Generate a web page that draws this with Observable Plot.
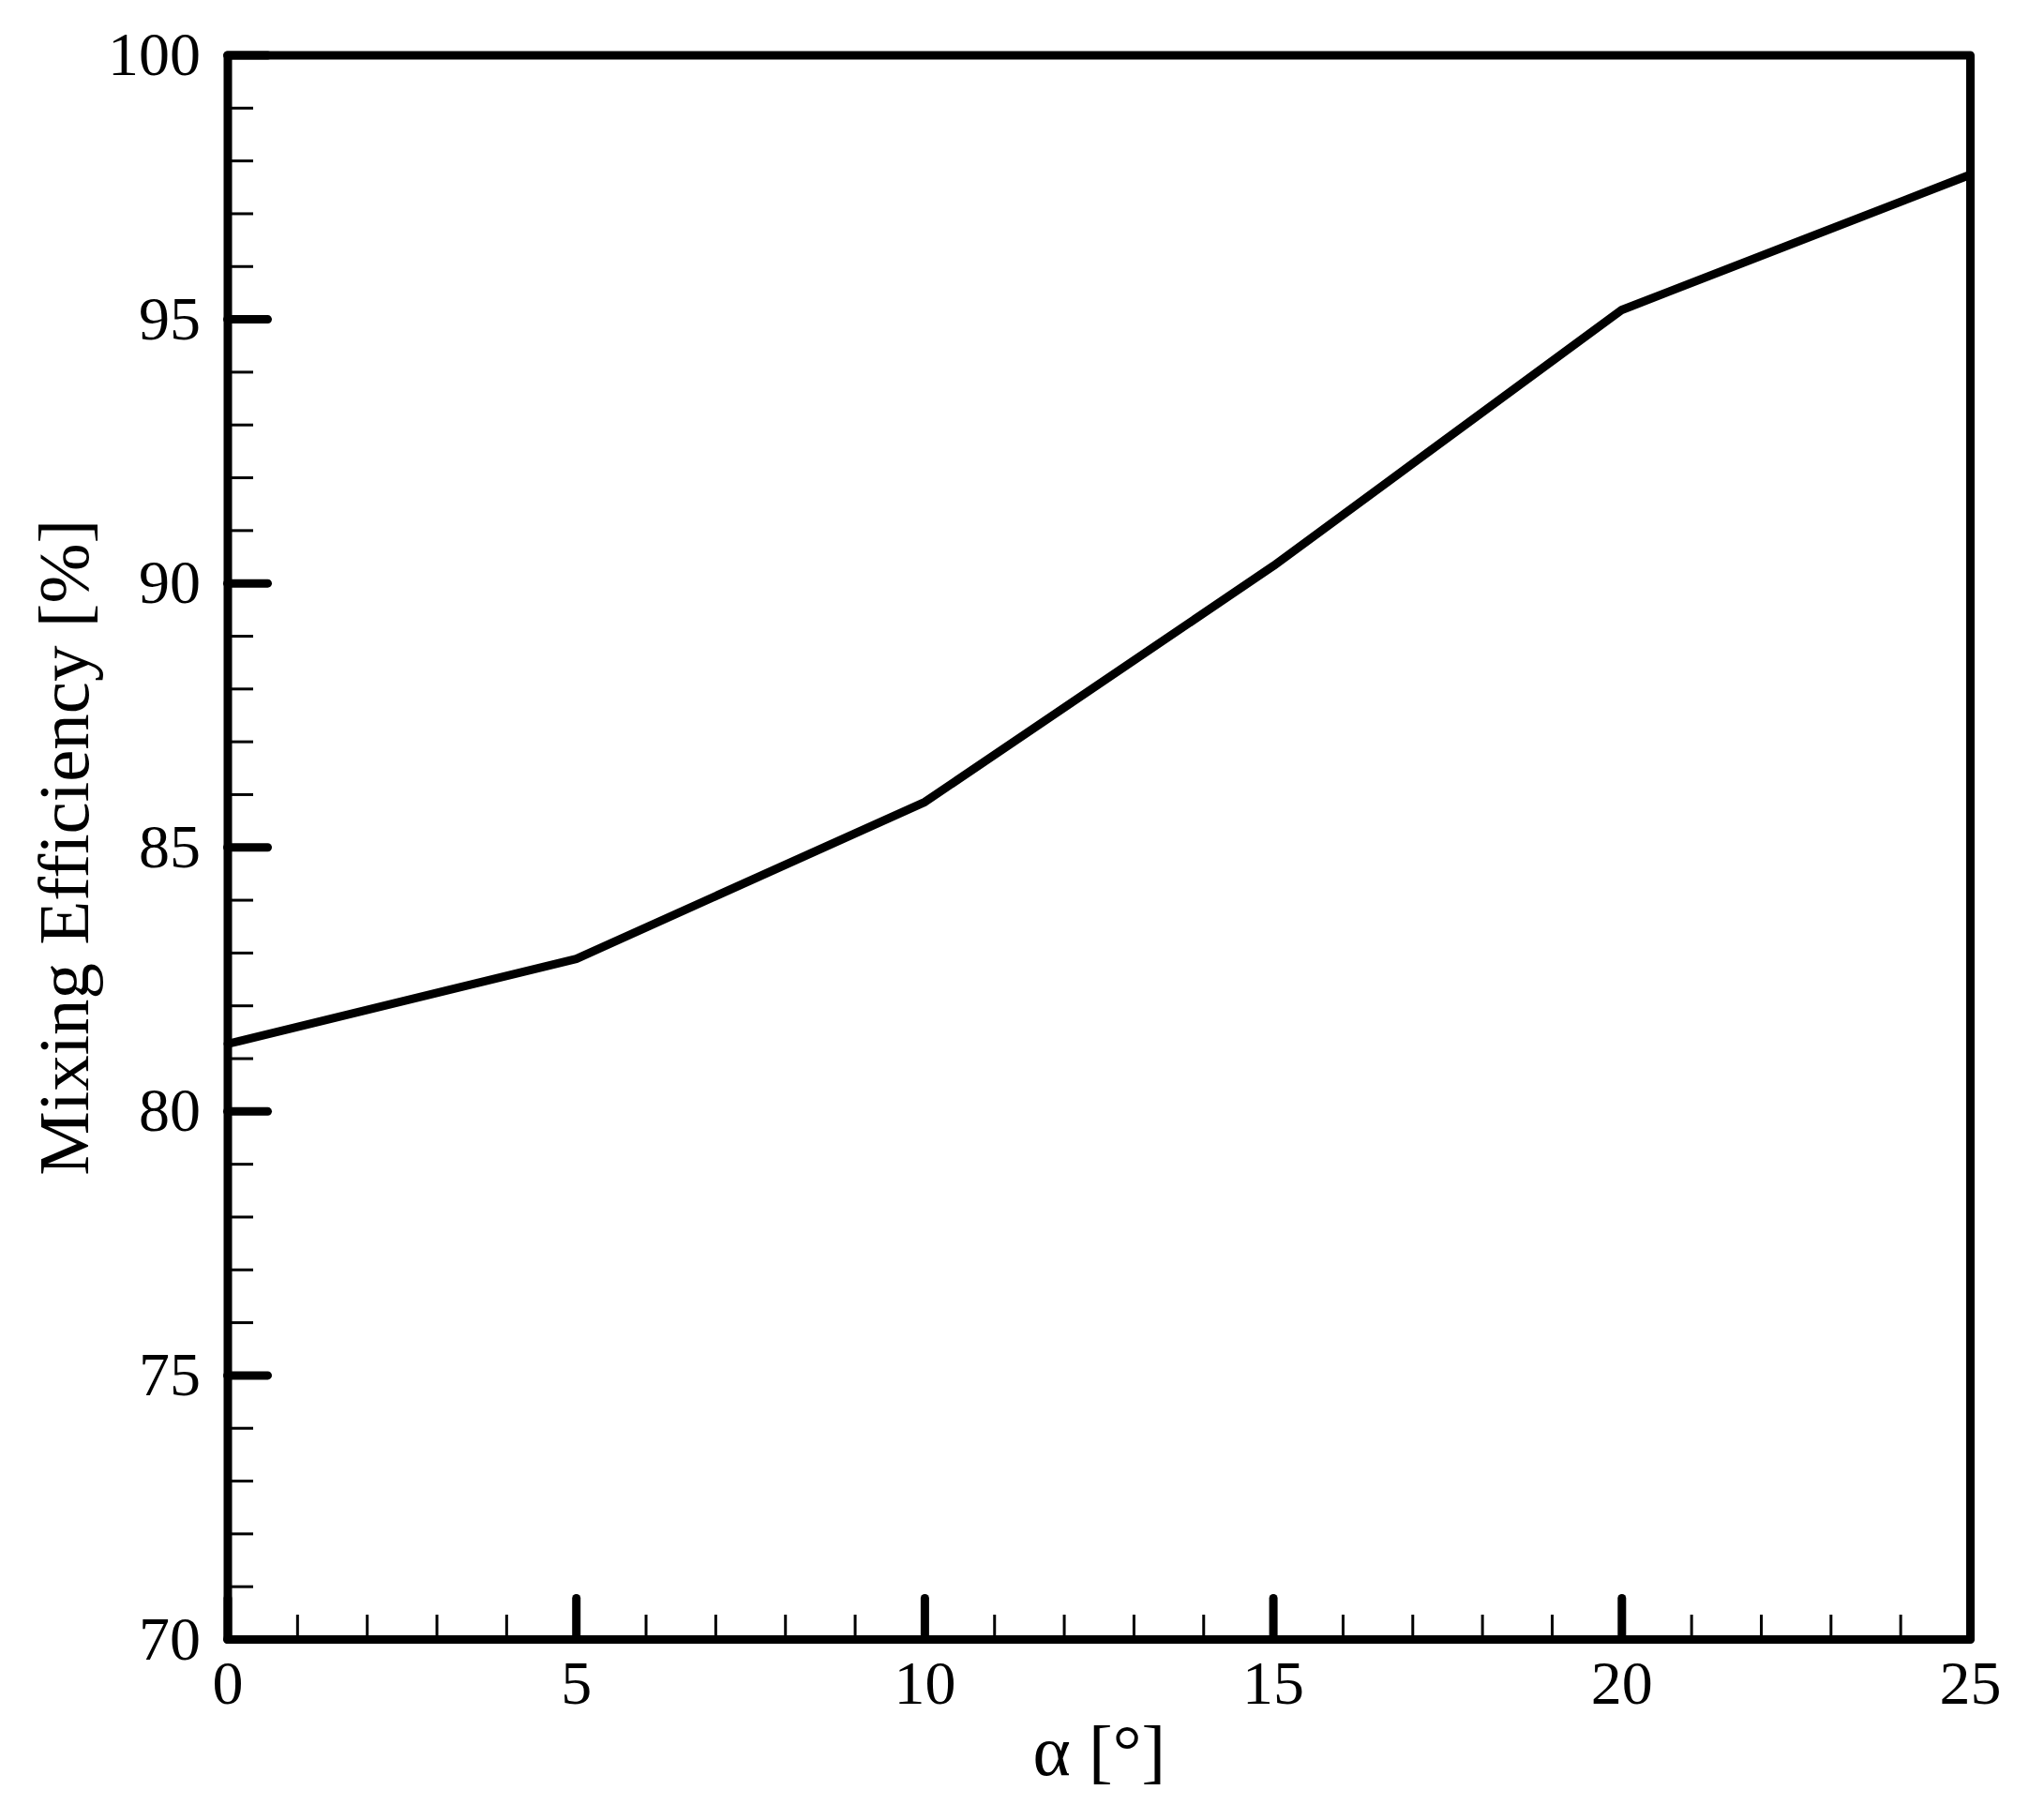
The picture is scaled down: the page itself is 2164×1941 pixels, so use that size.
<!DOCTYPE html>
<html>
<head>
<meta charset="utf-8">
<script src="https://cdn.jsdelivr.net/npm/d3@7"></script>
<script src="https://cdn.jsdelivr.net/npm/@observablehq/plot@0.6"></script>
<style>
  html, body { margin: 0; padding: 0; background: #fff; }
  #chart svg { display: block; }
</style>
</head>
<body>
<div id="chart"></div>
<script>
// Data
const alpha = [0, 5, 10, 15, 20, 25];
const efficiency = [81.28, 82.89, 85.86, 90.33, 95.18, 97.74];

// Tick values
const xMajorTicks = [0, 5, 10, 15, 20, 25];
const xMinorTicks = [1, 2, 3, 4, 6, 7, 8, 9, 11, 12, 13, 14, 16, 17, 18, 19, 21, 22, 23, 24];
const yMajorTicks = [70, 75, 80, 85, 90, 95, 100];
const yMinorTicks = [71, 72, 73, 74, 76, 77, 78, 79, 81, 82, 83, 84, 86, 87, 88, 89, 91, 92, 93, 94, 96, 97, 98, 99];

const xTitle = "α [°]";
const yTitle = "Mixing Efficiency [%]";

const rows = alpha.map((a, i) => ({alpha: a, eff: efficiency[i]}));
const fmt = d => String(d);

const chart = Plot.plot({
  width: 2164,
  height: 1941,
  marginLeft: 242.5,
  marginRight: 63,
  marginTop: 58.5,
  marginBottom: 193,
  style: {fontFamily: "Liberation Serif", fontSize: "66px", color: "#000", background: "#fff"},
  x: {domain: [0, 25]},
  y: {domain: [70, 100]},
  marks: [
    // minor ticks
    Plot.axisX(xMinorTicks, {tickSize: -26, strokeWidth: 3, fill: "none", label: null}),
    Plot.axisY(yMinorTicks, {tickSize: -27.5, strokeWidth: 3, fill: "none", label: null}),
    // major ticks
    Plot.axisX(xMajorTicks, {tickSize: -43.5, strokeWidth: 9, strokeLinecap: "round", fill: "none", label: null}),
    Plot.axisY(yMajorTicks, {tickSize: -43, strokeWidth: 9, strokeLinecap: "round", fill: "none", label: null}),
    // tick labels
    Plot.axisX(xMajorTicks, {tickSize: 0, tickPadding: 22, fontSize: 66, tickFormat: fmt, label: null}),
    Plot.axisY(yMajorTicks, {tickSize: 0, tickPadding: 29, fontSize: 66, tickFormat: fmt, label: null}),
    // data line
    Plot.line(rows, {x: "alpha", y: "eff", stroke: "#000", strokeWidth: 9, strokeLinejoin: "miter"}),
    // frame
    Plot.frame({stroke: "#000", strokeWidth: 9, strokeLinejoin: "round"}),
    // axis titles
    Plot.text([xTitle], {frameAnchor: "bottom", textAnchor: "middle", lineAnchor: "bottom", dy: 144, fontSize: 77, text: d => d}),
    Plot.text([yTitle], {frameAnchor: "left", textAnchor: "middle", rotate: -90, lineAnchor: "bottom", dx: -149.5, fontSize: 77, text: d => d})
  ]
});

document.getElementById("chart").appendChild(chart);
</script>
</body>
</html>
